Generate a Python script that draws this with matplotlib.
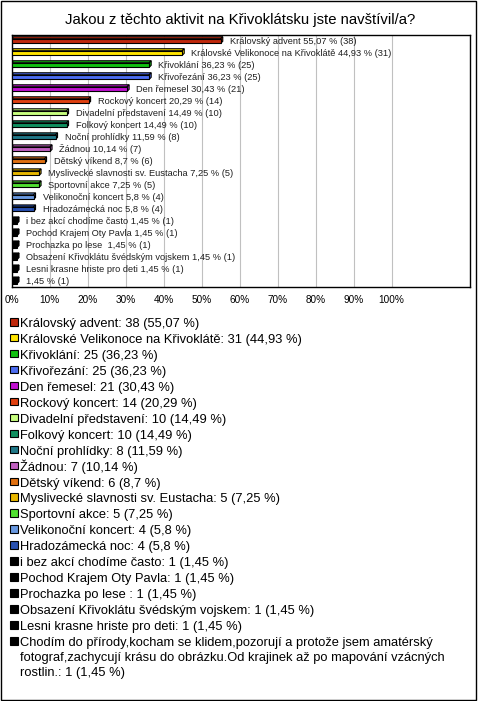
import matplotlib
matplotlib.use('Agg')
import matplotlib.pyplot as plt
from matplotlib.patches import Polygon, Rectangle

plt.rcParams['font.family'] = ['Liberation Sans', 'DejaVu Sans']

# data
names = ['Královský advent', 'Královské Velikonoce na Křivoklátě', 'Křivoklání', 'Křivořezání',
         'Den řemesel', 'Rockový koncert', 'Divadelní představení', 'Folkový koncert',
         'Noční prohlídky', 'Žádnou', 'Dětský víkend', 'Myslivecké slavnosti sv. Eustacha',
         'Sportovní akce', 'Velikonoční koncert', 'Hradozámecká noc', 'i bez akcí chodíme často',
         'Pochod Krajem Oty Pavla', 'Prochazka po lese ', 'Obsazení Křivoklátu švédským vojskem',
         'Lesni krasne hriste pro deti',
         'Chodím do přírody,kocham se klidem,pozorují a protože jsem amatérský\n'
         'fotograf,zachycují krásu do obrázku.Od krajinek až po mapování vzácných\nrostlin.']
counts = [38, 31, 25, 25, 21, 14, 10, 10, 8, 7, 6, 5, 5, 4, 4, 1, 1, 1, 1, 1, 1]
percents = [55.07, 44.93, 36.23, 36.23, 30.43, 20.29, 14.49, 14.49, 11.59, 10.14, 8.7,
            7.25, 7.25, 5.8, 5.8, 1.45, 1.45, 1.45, 1.45, 1.45, 1.45]
colors = ['#c0280c', '#ffe400', '#10c010', '#4c6cf0', '#c010d0', '#e04010', '#c8ff80',
          '#109060', '#207888', '#c060c0', '#e07010', '#e8b800', '#50e030', '#6898e0',
          '#2850b0', '#000000', '#000000', '#000000', '#000000', '#000000', '#000000']
xticks = [0, 10, 20, 30, 40, 50, 60, 70, 80, 90, 100]
title = 'Jakou z těchto aktivit na Křivoklátsku jste navštívil/a?'

W, H = 480, 701
fig = plt.figure(figsize=(W / 100, H / 100), dpi=100)

def fx(px):
    return px / W

def fy(py):
    return 1 - py / H

# axes: x from 11.5 to 470 px, y from 35 to 286.7 px
ax = fig.add_axes([fx(11.5), fy(286.7), fx(470 - 11.5), (286.7 - 35) / H])
xmax = (470 - 11.5) / 380 * 100
ax.set_xlim(0, xmax)
n = len(names)
ax.set_ylim(n - 1 + 0.45, -0.5)

ax.set_xticks(xticks)
ax.set_xticklabels(['%d%%' % t for t in xticks], fontsize=7.2)
ax.tick_params(axis='x', length=0, pad=6)
ax.set_yticks([])
for t in xticks[1:]:
    ax.axvline(t, color='#c0c0c0', lw=0.8, zorder=0)
for s in ax.spines.values():
    s.set_linewidth(1.0)

bh = 0.38
dx = 2.0 / 3.8   # depth in % units (2 px)
dy = 2.0 / 12.0  # depth in bar units (2 px)
ys = list(range(n))
ax.barh(ys, percents, height=bh, color=colors, edgecolor='black', linewidth=0.8, zorder=3)
for y, v, c in zip(ys, percents, colors):
    top = y - bh / 2
    bot = y + bh / 2
    ax.add_patch(Polygon([(0, top), (v, top), (v + dx, top - dy), (dx, top - dy)],
                         closed=True, facecolor=c, edgecolor='black', lw=0.8, zorder=2))
    ax.add_patch(Polygon([(v, top), (v, bot), (v + dx, bot - dy), (v + dx, top - dy)],
                         closed=True, facecolor=c, edgecolor='black', lw=0.8, zorder=2))

for i, (nm, v, c) in enumerate(zip(names, percents, counts)):
    lab = nm if '\n' not in nm else ''
    txt = ('%s %s %% (%d)' % (lab, ('%g' % v).replace('.', ','), c)).strip()
    ax.text(v + 2.4, i, txt, fontsize=6.7, va='center', ha='left', color='#202020', zorder=4)

fig.text(0.5, fy(20), title, ha='center', va='center', fontsize=10.7)

# legend
row0 = 322
step = 15.95
for i, (nm, v, c, col) in enumerate(zip(names, percents, counts, colors)):
    yc = row0 + i * step
    fig.patches.append(Rectangle((fx(10), fy(yc + 3.5)), fx(7.5), 7.5 / H, facecolor=col,
                                 edgecolor='black', lw=0.8, transform=fig.transFigure))
    txt = '%s: %d (%s %%)' % (nm, c, ('%g' % v).replace('.', ','))
    # one text per line so every line sits on its own baseline
    for k, line in enumerate(txt.split('\n')):
        fig.text(fx(20), fy(yc + 5 + k * 15.0), line, fontsize=9.3, va='baseline', ha='left')

# outer frame
fig.patches.append(Rectangle((fx(1), fy(700)), fx(475), 699 / H, fill=False,
                             edgecolor='black', lw=1.0, transform=fig.transFigure))

fig.savefig('out.png', dpi=100)
